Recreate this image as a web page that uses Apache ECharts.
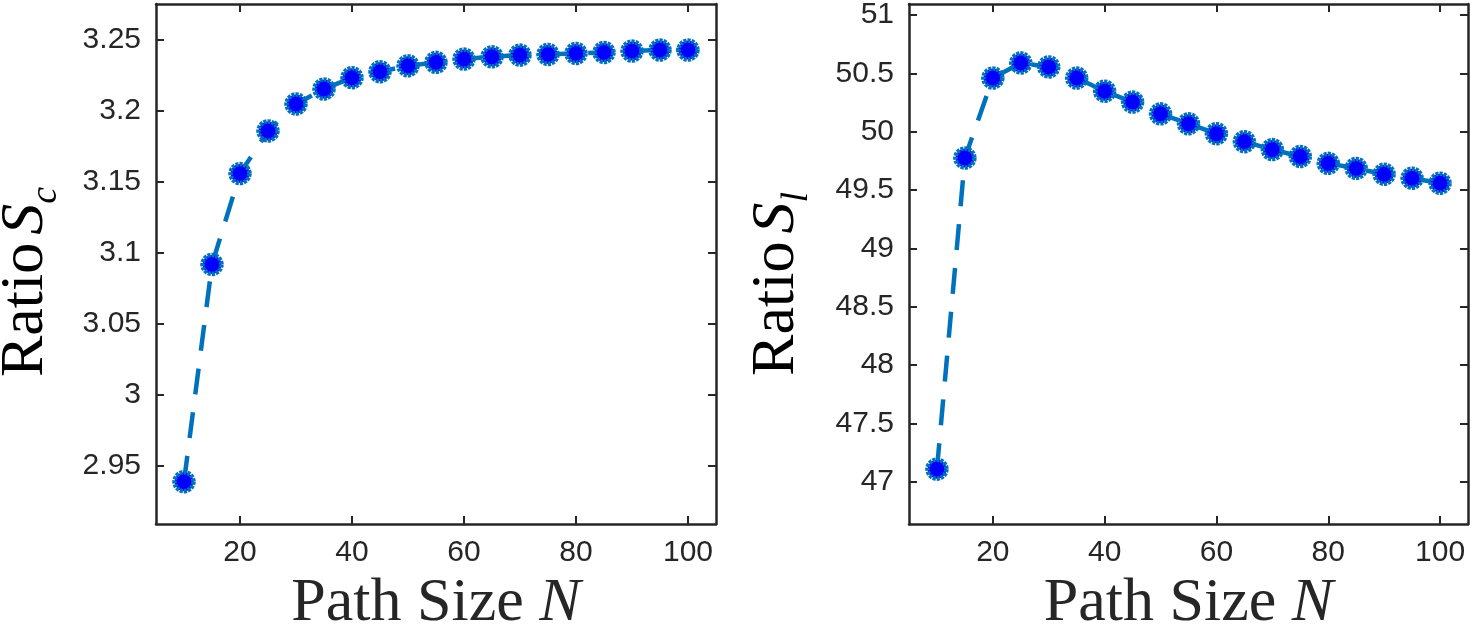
<!DOCTYPE html>
<html>
<head>
<meta charset="utf-8">
<script src="https://cdn.jsdelivr.net/npm/echarts@6/dist/echarts.min.js"></script>
<style>
    html, body { margin: 0; padding: 0; background: #fff; }
    #chart { width: 1471px; height: 626px; }
</style>
</head>
<body>
<div id="chart"></div>
<script>
// path sizes N
const pathSize = [10, 15, 20, 25, 30, 35, 40, 45, 50, 55, 60, 65, 70, 75, 80, 85, 90, 95, 100]
// ratio S_c (left panel)
const ratioSc = [2.939, 3.092, 3.156, 3.186, 3.205, 3.2155, 3.2235, 3.2277, 3.2319, 3.2343,
    3.2366, 3.2382, 3.2394, 3.2399, 3.2406, 3.2413, 3.2423, 3.243, 3.243]
// ratio S_l (right panel)
const ratioSl = [47.11, 49.775, 50.46, 50.589, 50.555, 50.46, 50.347, 50.254, 50.153, 50.068,
    49.983, 49.915, 49.847, 49.788, 49.729, 49.686, 49.636, 49.602, 49.559]

// tick labels
const xTicks = [20, 40, 60, 80, 100]
const scTicks = [2.95, 3, 3.05, 3.1, 3.15, 3.2, 3.25]
const slTicks = [47, 47.5, 48, 48.5, 49, 49.5, 50, 50.5, 51]

const INK = '#262626'
const LINE = '#0072BD'
const SANS = 'Liberation Sans, Arial, sans-serif'
const SERIF = 'Liberation Serif, Times New Roman, serif'

const chart = echarts.init(document.getElementById('chart'), null, { renderer: 'canvas' })

const titleRich = {
    r: { fontFamily: SERIF, fontSize: 62, lineHeight: 62, color: INK, verticalAlign: 'top' },
    i: { fontFamily: SERIF, fontSize: 62, lineHeight: 62, fontStyle: 'italic', color: INK, verticalAlign: 'top' },
    s: { fontFamily: SERIF, fontSize: 62, lineHeight: 62, fontStyle: 'italic', color: INK, verticalAlign: 'top', padding: [0, 0, 0, 8] },
    sub: { fontFamily: SERIF, fontSize: 38, lineHeight: 38, fontStyle: 'italic', color: INK, verticalAlign: 'top', padding: [32, 0, 0, 0] }
}

function fmt(v) {
    return String(Math.round(v * 100) / 100)
}

function xAxes(gi) {
    const base = {
        gridIndex: gi,
        type: 'value',
        min: 5,
        max: 105,
        splitLine: { show: false },
        axisLine: { show: true, lineStyle: { color: INK, width: 2.5 } },
        axisTick: { show: true, inside: true, length: 8, customValues: xTicks, lineStyle: { color: INK, width: 2 } }
    }
    return [
        Object.assign({}, base, {
            position: 'bottom',
            axisLabel: { customValues: xTicks, fontSize: 30, fontFamily: SANS, color: INK, margin: 14, formatter: fmt },
            name: '{r|Path Size }{i|N}',
            nameLocation: 'middle',
            nameGap: 46,
            nameTextStyle: { rich: titleRich }
        }),
        Object.assign({}, base, { position: 'top', axisLabel: { show: false } })
    ]
}

function yAxes(gi, min, max, ticks) {
    const base = {
        gridIndex: gi,
        type: 'value',
        min: min,
        max: max,
        splitLine: { show: false },
        axisLine: { show: true, lineStyle: { color: INK, width: 2.5 } },
        axisTick: { show: true, inside: true, length: 8, customValues: ticks, lineStyle: { color: INK, width: 2 } }
    }
    return [
        Object.assign({}, base, {
            position: 'left',
            axisLabel: { customValues: ticks, fontSize: 30, fontFamily: SANS, color: INK, margin: 15, formatter: fmt }
        }),
        Object.assign({}, base, { position: 'right', axisLabel: { show: false } })
    ]
}

function lineSeries(axisIdx, values) {
    return {
        type: 'line',
        xAxisIndex: axisIdx,
        yAxisIndex: axisIdx,
        data: pathSize.map((n, i) => [n, values[i]]),
        smooth: false,
        symbol: 'circle',
        symbolSize: 19,
        lineStyle: { color: LINE, width: 4.5, type: [26, 18] },
        itemStyle: { color: '#0000FF', borderColor: LINE, borderWidth: 4.5, borderType: [3, 1] },
        emphasis: { disabled: true },
        z: 3
    }
}

chart.setOption({
    animation: false,
    backgroundColor: '#fff',
    grid: [
        { left: 156, top: 4, width: 560, height: 520, outerBoundsMode: 'none', containLabel: false },
        { left: 909, top: 4, width: 559, height: 520, outerBoundsMode: 'none', containLabel: false }
    ],
    xAxis: [...xAxes(0), ...xAxes(1)],
    yAxis: [
        ...yAxes(0, 2.9092, 3.2754, scTicks),
        ...yAxes(1, 46.64, 51.094, slTicks)
    ],
    series: [
        lineSeries(0, ratioSc),
        lineSeries(2, ratioSl)
    ],
    graphic: [
        {
            type: 'text',
            x: 26,
            y: 282,
            rotation: Math.PI / 2,
            style: { text: '{r|Ratio}{s|S}{sub|c}', rich: titleRich, align: 'center', verticalAlign: 'middle' }
        },
        {
            type: 'text',
            x: 777,
            y: 284,
            rotation: Math.PI / 2,
            style: { text: '{r|Ratio}{s|S}{sub|l}', rich: titleRich, align: 'center', verticalAlign: 'middle' }
        }
    ]
})
</script>
</body>
</html>
